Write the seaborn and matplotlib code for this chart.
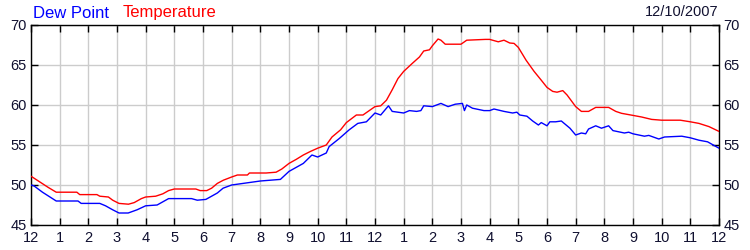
import matplotlib
matplotlib.use("Agg")
import matplotlib.pyplot as plt
import seaborn as sns
import pandas as pd

temp_hours = [0, 0.3, 0.6, 0.88, 1.6, 1.7, 2.3, 2.4, 2.7, 2.85, 3.07, 3.4, 3.6, 3.85, 4.0,
              4.35, 4.6, 4.8, 5.0, 5.75, 5.9, 6.13, 6.3, 6.5, 6.71, 7.0, 7.2, 7.55, 7.62,
              8.2, 8.55, 8.75, 9.0, 9.25, 9.5, 9.75, 10.0, 10.3, 10.5, 10.8, 11.0, 11.35,
              11.58, 11.8, 12.0, 12.2, 12.4, 12.6, 12.8, 13.0, 13.3, 13.55, 13.7, 13.9,
              14.0, 14.2, 14.3, 14.45, 15.0, 15.2, 15.85, 16.0, 16.2, 16.3, 16.5, 16.7,
              16.85, 17.0, 17.27, 17.55, 17.8, 18.0, 18.2, 18.35, 18.55, 18.7, 19.0, 19.2,
              19.45, 19.7, 20.15, 20.4, 20.6, 21.0, 21.3, 21.65, 22.0, 22.65, 23.0, 23.3,
              23.65, 24.0]
temp_values = [51.1, 50.4, 49.7, 49.1, 49.1, 48.8, 48.8, 48.6, 48.5, 48.1, 47.7, 47.6, 47.8,
               48.3, 48.5, 48.6, 48.9, 49.3, 49.5, 49.5, 49.3, 49.3, 49.6, 50.2, 50.6, 51.0,
               51.25, 51.25, 51.5, 51.5, 51.6, 52.0, 52.7, 53.2, 53.75, 54.2, 54.6, 55.0,
               56.0, 56.9, 57.8, 58.75, 58.75, 59.3, 59.8, 59.9, 60.6, 61.9, 63.3, 64.2,
               65.2, 66.0, 66.75, 66.9, 67.4, 68.25, 68.1, 67.6, 67.6, 68.1, 68.2, 68.2,
               68.0, 67.9, 68.1, 67.75, 67.7, 67.2, 65.6, 64.2, 63.1, 62.2, 61.7, 61.6,
               61.8, 61.25, 59.8, 59.2, 59.2, 59.7, 59.7, 59.2, 58.96, 58.7, 58.5, 58.2,
               58.1, 58.1, 57.9, 57.7, 57.3, 56.7]

dew_hours = [0, 0.1, 0.4, 0.88, 1.64, 1.75, 2.4, 2.6, 2.85, 3.07, 3.39, 3.7, 4.0, 4.4, 4.6,
             4.8, 5.6, 5.8, 6.1, 6.5, 6.7, 7.0, 7.6, 8.0, 8.7, 9.0, 9.5, 9.8, 10.0, 10.3,
             10.4, 10.75, 11.1, 11.4, 11.7, 12.0, 12.2, 12.47, 12.6, 13.0, 13.2, 13.45,
             13.6, 13.7, 14.0, 14.3, 14.55, 14.8, 15.05, 15.12, 15.2, 15.4, 15.8, 16.0,
             16.15, 16.5, 16.8, 16.95, 17.05, 17.3, 17.5, 17.7, 17.8, 18.0, 18.1, 18.3,
             18.5, 18.8, 19.0, 19.2, 19.35, 19.45, 19.7, 19.9, 20.15, 20.3, 20.7, 20.85,
             21.0, 21.4, 21.55, 21.9, 22.1, 22.7, 23.0, 23.3, 23.6, 24.0]
dew_values = [50.0, 49.9, 49.1, 48.0, 48.0, 47.7, 47.7, 47.4, 46.9, 46.5, 46.5, 46.9, 47.4,
              47.5, 47.9, 48.3, 48.3, 48.1, 48.2, 49.0, 49.6, 50.0, 50.3, 50.5, 50.7, 51.7,
              52.7, 53.75, 53.5, 54.0, 54.8, 55.8, 56.9, 57.7, 57.9, 59.0, 58.75, 59.9,
              59.2, 59.0, 59.3, 59.2, 59.3, 59.9, 59.8, 60.2, 59.8, 60.1, 60.2, 59.3, 60.0,
              59.6, 59.3, 59.3, 59.5, 59.2, 59.0, 59.1, 58.75, 58.6, 58.0, 57.5, 57.8, 57.4,
              57.9, 57.9, 58.0, 57.1, 56.25, 56.5, 56.4, 57.0, 57.4, 57.1, 57.4, 56.8, 56.5,
              56.6, 56.4, 56.1, 56.2, 55.75, 56.0, 56.1, 55.9, 55.6, 55.4, 54.6]

x_tick_hours = list(range(0, 25))
x_tick_labels = ["12", "1", "2", "3", "4", "5", "6", "7", "8", "9", "10", "11",
                 "12", "1", "2", "3", "4", "5", "6", "7", "8", "9", "10", "11", "12"]
y_ticks = [45, 50, 55, 60, 65, 70]
date_text = "12/10/2007"

sns.set_theme(style="white")
plt.rcParams['font.family'] = ['Liberation Sans', 'DejaVu Sans']

df = pd.concat([
    pd.DataFrame({"hour": dew_hours, "value": dew_values, "series": "Dew Point"}),
    pd.DataFrame({"hour": temp_hours, "value": temp_values, "series": "Temperature"}),
])

fig = plt.figure(figsize=(7.5, 2.5), dpi=100)
ax = fig.add_axes([31 / 750, 25 / 250, 688 / 750, 200 / 250])

sns.lineplot(data=df, x="hour", y="value", hue="series", estimator=None,
             palette={"Dew Point": "#0000ff", "Temperature": "#ff0000"},
             linewidth=1.0, ax=ax, legend=False, zorder=3)

ax.set_xlim(0, 24)
ax.set_ylim(45, 70)
ax.set_xticks(x_tick_hours)
ax.set_xticklabels(x_tick_labels)
ax.set_yticks(y_ticks)
ax.set_xlabel("")
ax.set_ylabel("")
ax.grid(True, color="#cccccc", linewidth=1.0, zorder=0)
ax.set_axisbelow(True)
for s in ax.spines.values():
    s.set_color("black")
    s.set_linewidth(1.0)
    s.set_visible(True)

label_color = "#101030"
ax.tick_params(axis="both", which="both", direction="in", length=5, width=1,
               color="black", labelcolor=label_color, labelsize=10.5,
               top=True, right=True, labelright=True, left=True, bottom=True)
ax.tick_params(axis="x", pad=4)
ax.tick_params(axis="y", pad=3)

fig.text(33 / 750, 1 - 13 / 250, "Dew Point", color="#0000ff", fontsize=12,
         ha="left", va="center")
fig.text(123 / 750, 1 - 13 / 250, "Temperature", color="#ff0000", fontsize=12,
         ha="left", va="center")
fig.text(718 / 750, 1 - 12 / 250, date_text, color=label_color, fontsize=10.5,
         ha="right", va="center")

fig.savefig("out.png", dpi=100, facecolor="white")
